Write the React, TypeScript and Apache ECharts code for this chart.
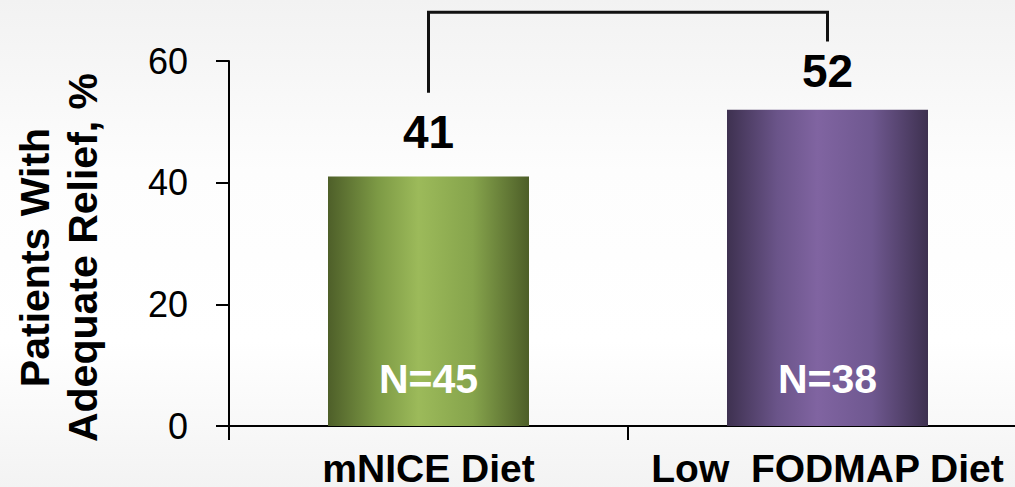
import React, { useEffect, useRef } from 'react';
import * as echarts from 'echarts';

// Share of patients reporting adequate relief, by diet arm
const categories = ['mNICE Diet', 'Low  FODMAP Diet'];
const reliefPct = [41, 52];
const sampleSizes = [45, 38];
const yAxisMin = 0;
const yAxisMax = 60;
const yAxisStep = 20;

// Comparison bracket levels, in axis units
const bracketLegs = [54.8, 63.2];
const bracketTop = 68;

const FONT = '"Liberation Sans", Arial, sans-serif';

const barFills = [
  ['#4e5f29', '#7d9a45', '#9cba5a', '#86a44c', '#4d5e28'],
  ['#3e3150', '#6a5489', '#8064a1', '#6f5890', '#3e3150'],
];

const shade = (stops: string[]) =>
  new echarts.graphic.LinearGradient(
    0, 0, 1, 0,
    stops.map((c, i) => ({ offset: [0, 0.25, 0.45, 0.72, 1][i], color: c }))
  );

export default function App() {
  const ref = useRef<HTMLDivElement>(null);

  useEffect(() => {
    const chart = echarts.init(ref.current!, null, { renderer: 'svg' });
    const valueLabelGap = [22, 16];

    chart.setOption({
      animation: false,
      backgroundColor: new echarts.graphic.LinearGradient(0, 0, 0, 1, [
        { offset: 0, color: '#f2f2f2' },
        { offset: 0.35, color: '#fdfdfd' },
        { offset: 0.7, color: '#ffffff' },
        { offset: 1, color: '#f3f3f3' },
      ]),
      grid: { left: 229, top: 61, bottom: 61, width: 798, outerBoundsMode: 'none' },
      xAxis: {
        type: 'category',
        data: categories,
        axisLine: { lineStyle: { color: '#000', width: 2 } },
        axisTick: { show: true, length: 14, lineStyle: { color: '#000', width: 2 } },
        axisLabel: {
          interval: 0,
          hideOverlap: false,
          color: '#000',
          fontFamily: FONT,
          fontWeight: 'bold',
          fontSize: 39,
          margin: 23,
        },
      },
      yAxis: {
        type: 'value',
        min: yAxisMin,
        max: yAxisMax,
        interval: yAxisStep,
        name: 'Patients With\nAdequate Relief, %',
        nameLocation: 'middle',
        nameRotate: 90,
        nameGap: 122,
        nameTextStyle: {
          color: '#000',
          fontFamily: FONT,
          fontWeight: 'bold',
          fontSize: 41,
          lineHeight: 48,
          padding: [0, 28, 0, 0],
        },
        axisLine: { show: true, lineStyle: { color: '#000', width: 2 } },
        axisTick: { show: true, length: 13, lineStyle: { color: '#000', width: 2 } },
        splitLine: { show: false },
        axisLabel: { color: '#000', fontFamily: FONT, fontSize: 36, margin: 41 },
      },
      series: [
        {
          type: 'bar',
          barWidth: 201,
          data: reliefPct.map((v, i) => ({
            value: v,
            itemStyle: { color: shade(barFills[i]) },
            label: { formatter: `N=${sampleSizes[i]}` },
          })),
          label: {
            show: true,
            position: 'insideBottom',
            distance: 27,
            color: '#fff',
            fontFamily: FONT,
            fontWeight: 'bold',
            fontSize: 41,
          },
          silent: true,
        },
        {
          type: 'bar',
          barWidth: 201,
          barGap: '-100%',
          data: reliefPct.map((v, i) => ({
            value: v,
            label: { distance: valueLabelGap[i] },
          })),
          itemStyle: { color: 'rgba(0,0,0,0)' },
          label: {
            show: true,
            position: 'top',
            formatter: '{c}',
            color: '#000',
            fontFamily: FONT,
            fontWeight: 'bold',
            fontSize: 46,
          },
          silent: true,
        },
      ],
    });

    const px = (i: number, v: number) =>
      chart.convertToPixel({ xAxisIndex: 0, yAxisIndex: 0 }, [categories[i], v]) as number[];
    const a = px(0, bracketLegs[0]);
    const b = px(0, bracketTop);
    const c = px(1, bracketTop);
    const d = px(1, bracketLegs[1]);
    chart.setOption({
      graphic: [
        {
          type: 'polyline',
          shape: { points: [a, b, c, d] },
          style: { stroke: '#111', lineWidth: 3, fill: null },
          silent: true,
        },
      ],
    });

    return () => chart.dispose();
  }, []);

  return (
    <div
      ref={ref}
      style={{ position: 'fixed', left: 0, top: 0, width: 1015, height: 487 }}
    />
  );
}
